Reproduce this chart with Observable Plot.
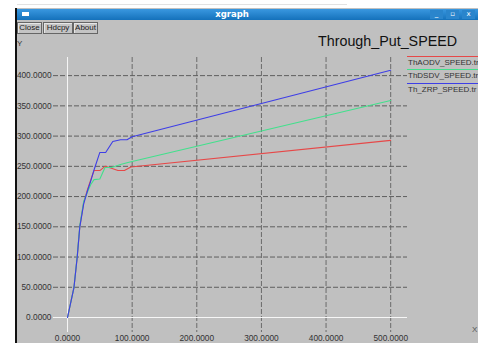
<!DOCTYPE html>
<html><head><meta charset="utf-8">
<script src="https://cdn.jsdelivr.net/npm/d3@7"></script>
<script src="https://cdn.jsdelivr.net/npm/@observablehq/plot@0.6"></script>
<style>
body{margin:0;background:#fff;font-family:"Liberation Sans",Arial,sans-serif;}
#wrap{position:relative;width:482px;height:343px;overflow:hidden;background:#fff}
#topline{position:absolute;left:17px;top:4px;width:330px;height:1px;background:#e2e2e2}
#win{position:absolute;left:15px;top:8px;width:463px;height:335px;background:#c0c0c0;border-left:2px solid #111;box-sizing:border-box}
#titlebar{position:absolute;left:17px;top:9px;width:461px;height:11px;background:linear-gradient(#3a98e0,#1471bb);}
#titlebar .t{position:absolute;left:0;width:430px;top:0;line-height:11px;text-align:center;color:#fff;font-weight:bold;font-size:8.5px;font-family:"DejaVu Sans",sans-serif}
#titlebar .ic{position:absolute;left:5px;top:3px;width:7px;height:4px;background:#fff}
.wb{position:absolute;top:1px;width:13px;height:9px;background:#2a85cc;color:#fff;font-size:7px;line-height:9px;text-align:center;font-family:"DejaVu Sans",sans-serif}
.btn{position:absolute;top:22px;height:12px;box-sizing:border-box;border:1px solid #666;background:#c4c4c4;font-size:8px;line-height:10px;text-align:center;color:#222;box-shadow:inset 1px 1px 0 #e6e6e6}
#title{position:absolute;left:318px;top:33px;font-size:14.3px;color:#111;white-space:nowrap}
#ylab{position:absolute;left:17px;top:39px;font-size:8px;color:#333}
#xlab{position:absolute;left:472px;top:325px;font-size:8px;color:#555}
#plot{position:absolute;left:0;top:0}
#legend{position:absolute;left:407px;top:56px;width:71px;overflow:hidden}
.li{height:13.3px;box-sizing:border-box;font-size:8px;line-height:11px;color:#333;white-space:nowrap;padding-left:1px}
</style></head>
<body><div id="wrap">
<div id="topline"></div>
<div id="win"></div>
<div id="titlebar"><div class="ic"></div><div class="t">xgraph</div>
<div class="wb" style="left:413px">_</div><div class="wb" style="left:429px">▫</div><div class="wb" style="left:445px">x</div></div>
<div class="btn" style="left:17px;width:25px">Close</div>
<div class="btn" style="left:43px;width:30px">Hdcpy</div>
<div class="btn" style="left:73px;width:25px">About</div>
<div id="title">Through_Put_SPEED</div>
<div id="ylab">Y</div>
<div id="plot"></div>
<div id="legend"></div>
<div id="xlab">X</div>
</div>
<script>
// ---- data ----
const series = ["ThAODV_SPEED.tr", "ThDSDV_SPEED.tr", "Th_ZRP_SPEED.tr"];
const aodvX = [0, 10, 15, 19, 25, 31, 36, 41, 50, 58, 68, 78, 88, 98, 500];
const aodvY = [0, 50, 100, 150, 190, 212, 228, 243, 243, 250, 247, 243, 243, 249, 293];
const dsdvX = [0, 10, 15, 19, 25, 31, 36, 41, 50, 58, 68, 82, 92, 100, 500];
const dsdvY = [0, 50, 102, 152, 192, 208, 220, 228, 229, 248, 248, 253, 256, 258, 359];
const zrpX = [0, 10, 15, 19, 25, 31, 36, 41, 50, 59, 70, 82, 92, 100, 500];
const zrpY = [0, 50, 100, 150, 188, 210, 226, 244, 273, 273, 291, 294, 294, 299, 409];
const xTicks = [0, 100, 200, 300, 400, 500];
const yTicks = [0, 50, 100, 150, 200, 250, 300, 350, 400];

const palette = ["#e64848", "#42e08c", "#3e3ee6"];
const rows = [];
[[aodvX, aodvY], [dsdvX, dsdvY], [zrpX, zrpY]].forEach(([xs, ys], i) => {
  xs.forEach((x, j) => rows.push({series: series[i], x, y: ys[j]}));
});

const fmt = d3.format(".4f");
const chart = Plot.plot({
  width: 482, height: 343,
  marginLeft: 53, marginRight: 75, marginTop: 57, marginBottom: 11,
  style: {background: "transparent", fontFamily: "Liberation Sans, Arial, sans-serif", fontSize: "8.3px", color: "#333", overflow: "visible"},
  x: {domain: [-21.7, 526]},
  y: {domain: [-24.8, 430]},
  color: {domain: series, range: palette},
  marks: [
    Plot.gridX(xTicks.filter(d => d !== 0), {stroke: "#6a6a6a", strokeOpacity: 1, strokeDasharray: "5,2"}),
    Plot.gridY(yTicks.filter(d => d !== 0), {stroke: "#5e5e5e", strokeOpacity: 1, strokeDasharray: "5,2"}),
    Plot.ruleX([0], {stroke: "#f6f6f6"}),
    Plot.ruleY([0], {stroke: "#f6f6f6"}),
    Plot.axisX(xTicks, {tickSize: 0, tickPadding: 3, tickFormat: fmt, label: null, fill: "#333"}),
    Plot.axisY(yTicks, {tickSize: 0, tickPadding: 2, tickFormat: fmt, label: null, fill: "#333"}),
    Plot.line(rows, {x: "x", y: "y", z: "series", stroke: "series", strokeWidth: 1.1})
  ]
});
document.getElementById("plot").appendChild(chart);

const leg = document.getElementById("legend");
series.forEach((s, i) => {
  const d = document.createElement("div");
  d.className = "li";
  d.style.borderTop = "1.5px solid " + palette[i];
  d.textContent = s;
  leg.appendChild(d);
});
</script>
</body></html>
